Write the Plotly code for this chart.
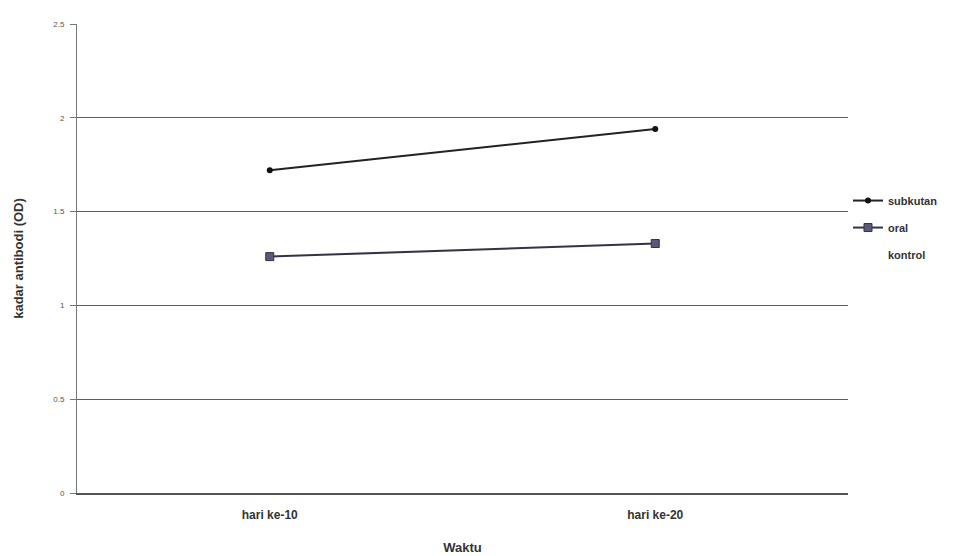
import plotly.graph_objects as go

categories = ["hari ke-10", "hari ke-20"]
subkutan = [1.72, 1.94]
oral = [1.26, 1.33]
kontrol = [None, None]
y_ticks = [0, 0.5, 1, 1.5, 2, 2.5]
y_tick_labels = ["0", "0.5", "1", "1.5", "2", "2.5"]

fig = go.Figure()
fig.add_trace(go.Scatter(x=categories, y=subkutan, name="subkutan", mode="lines+markers",
                         legendgroup="a",
                         line=dict(color="#222222", width=2),
                         marker=dict(symbol="circle", size=6, color="#111111")))
fig.add_trace(go.Scatter(x=categories, y=oral, name="oral", mode="lines+markers",
                         legendgroup="b",
                         line=dict(color="#333344", width=2),
                         marker=dict(symbol="square", size=8, color="#5a5a78",
                                     line=dict(color="#333344", width=1))))
fig.add_trace(go.Scatter(x=categories, y=kontrol, name="kontrol", mode="lines",
                         legendgroup="c",
                         line=dict(color="rgba(0,0,0,0)", width=0)))

fig.update_layout(
    width=977, height=556,
    paper_bgcolor="white", plot_bgcolor="white",
    margin=dict(l=69, r=137, t=16, b=71),
    font=dict(family="Liberation Sans, Arial, sans-serif", color="#222222"),
    xaxis=dict(type="category", range=[-0.5, 1.5], showgrid=False, automargin=False,
               showline=True, linecolor="#555555", linewidth=1.5,
               ticks="outside", ticklen=10, tickcolor="rgba(0,0,0,0)",
               tickfont=dict(size=12, color="#333333", weight="bold"),
               title=dict(text="<b>Waktu</b>", font=dict(size=13, color="#333333"), standoff=22)),
    yaxis=dict(range=[0, 2.5], tickvals=y_ticks, ticktext=y_tick_labels, automargin=False,
               showgrid=True, gridcolor="#5a5a70", gridwidth=1,
               showline=True, linecolor="#777777", linewidth=1,
               ticks="outside", ticklen=6, tickcolor="#777777", ticklabelstandoff=4,
               tickfont=dict(size=8, color="#555555"), zeroline=False,
               title=dict(text="<b>kadar antibodi (OD)</b>", font=dict(size=13, color="#333333"), standoff=26)),
    legend=dict(x=1.0, y=0.566, xanchor="left", yanchor="middle",
                font=dict(size=11, color="#333333", weight="bold"), tracegroupgap=8,
                bgcolor="rgba(0,0,0,0)", itemwidth=30),
    showlegend=True,
)

fig.write_html("out.html")
